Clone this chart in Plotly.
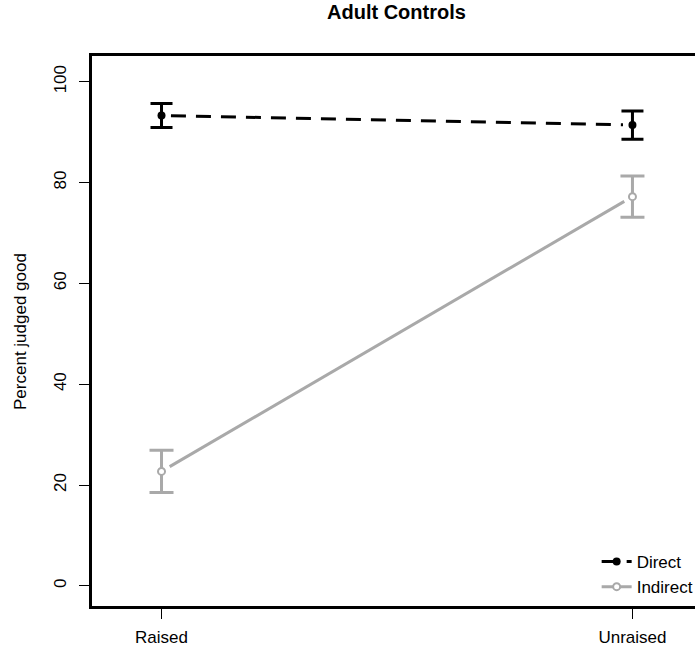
import plotly.graph_objects as go

categories = ["Raised", "Unraised"]
x_pos = [1, 2]
direct = [93.3, 91.4]
direct_err = [2.4, 2.8]
indirect = [22.7, 77.2]
indirect_err = [4.2, 4.1]
y_ticks = [0, 20, 40, 60, 80, 100]

W, H = 699, 652
ML, MR, MT, MB = 92, 0, 56, 46
XR = [0.8524, 2.1328]
YR = [-4.0, 105.1]
pw, ph = W - ML - MR, H - MT - MB
sx = pw / (XR[1] - XR[0])
sy = ph / (YR[1] - YR[0])

GREY = "#A9A9A9"
FONT = "Liberation Sans, Arial, sans-serif"


def gapped(xs, ys, gap=9.5):
    # shorten the segment at both ends (R type="b" style)
    x0, x1 = xs
    y0, y1 = ys
    dxp = (x1 - x0) * sx
    dyp = (y1 - y0) * sy
    L = (dxp ** 2 + dyp ** 2) ** 0.5
    f = gap / L
    return ([x0 + (x1 - x0) * f, x1 - (x1 - x0) * f],
            [y0 + (y1 - y0) * f, y1 - (y1 - y0) * f])


fig = go.Figure()

gx, gy = gapped(x_pos, direct)
fig.add_trace(go.Scatter(x=gx, y=gy, mode="lines", showlegend=False,
                         line=dict(color="black", width=3, dash="15px,10px"),
                         hoverinfo="skip"))
gx, gy = gapped(x_pos, indirect)
fig.add_trace(go.Scatter(x=gx, y=gy, mode="lines", showlegend=False,
                         line=dict(color=GREY, width=3),
                         hoverinfo="skip"))

fig.add_trace(go.Scatter(
    x=x_pos, y=direct, mode="markers", showlegend=False,
    marker=dict(symbol="circle", size=8, color="black"),
    error_y=dict(type="data", array=direct_err, visible=True,
                 color="black", thickness=3, width=11)))
fig.add_trace(go.Scatter(
    x=x_pos, y=indirect, mode="markers", showlegend=False,
    marker=dict(symbol="circle", size=7, color="white",
                line=dict(color=GREY, width=2)),
    error_y=dict(type="data", array=indirect_err, visible=True,
                 color=GREY, thickness=3, width=12)))

# legend entries
fig.add_trace(go.Scatter(x=[None], y=[None], mode="lines+markers", name="Direct",
                         legendgroup="d",
                         line=dict(color="black", width=3, dash="15px,10px"),
                         marker=dict(symbol="circle", size=8, color="black")))
fig.add_trace(go.Scatter(x=[None], y=[None], mode="lines+markers", name="Indirect",
                         legendgroup="i",
                         line=dict(color=GREY, width=3),
                         marker=dict(symbol="circle", size=7, color="white",
                                     line=dict(color=GREY, width=2))))

fig.update_layout(
    width=W, height=H,
    margin=dict(l=ML, r=MR, t=MT, b=MB, pad=0),
    paper_bgcolor="white", plot_bgcolor="white",
    font=dict(family=FONT, size=17, color="black"),
    showlegend=True,
    legend=dict(x=(600 - ML) / pw, y=(MT + ph - 544) / ph, xanchor="left", yanchor="top",
                bgcolor="rgba(0,0,0,0)", borderwidth=0, tracegroupgap=0,
                font=dict(family=FONT, size=17, color="black")),
    xaxis=dict(range=XR, tickvals=x_pos, ticktext=categories,
               showgrid=False, zeroline=False,
               showline=True, linecolor="black", linewidth=3, mirror=True,
               ticks="outside", ticklen=10, tickwidth=1.4, tickcolor="black",
               ticklabelstandoff=4,
               tickfont=dict(family=FONT, size=17, color="black")),
    yaxis=dict(range=YR, tickvals=y_ticks, showgrid=False, zeroline=False,
               showline=True, linecolor="black", linewidth=3, mirror=False,
               ticks="outside", ticklen=10, tickwidth=1.4, tickcolor="black",
               tickangle=-90, ticklabelstandoff=6,
               tickfont=dict(family=FONT, size=17, color="black")),
    annotations=[
        dict(text="<b>Adult Controls</b>", xref="paper", yref="paper",
             x=(399 - ML) / pw, y=1 + (MT - 12.5) / ph,
             xanchor="center", yanchor="middle", showarrow=False,
             font=dict(family=FONT, size=20, color="black")),
        dict(text="Percent judged good", xref="paper", yref="paper",
             x=(19.5 - ML) / pw, y=0.5, textangle=-90,
             xanchor="center", yanchor="middle", showarrow=False,
             font=dict(family=FONT, size=17, color="black")),
    ],
)

fig.write_html("out.html", config={"displayModeBar": False},
               post_script="document.body.style.margin='0px';document.body.style.overflow='hidden';")
